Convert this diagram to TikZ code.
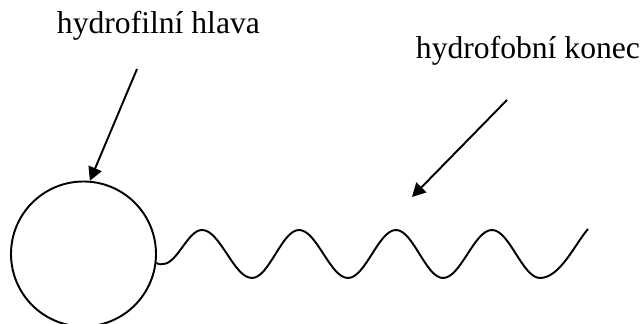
\documentclass[tikz,border=0pt]{standalone}
\usepackage{fontspec}
\setmainfont{Liberation Serif}
\usetikzlibrary{arrows.meta}

\begin{document}
\begin{tikzpicture}[line width=1.1pt,
    popis/.style={anchor=base west,inner sep=0pt,font=\fontsize{18}{21}\selectfont},
    sipka/.style={-{Triangle[length=0.27cm,width=0.28cm]}}]
  \useasboundingbox (0,0) rectangle (12.86,6.48);
  % head and labels
  \node[circle,draw,minimum size=2.9cm,inner sep=0pt] (hlava) at (1.67,1.40) {};
  \node[popis] (lblHlava) at (1.12,5.80) {hydrofilní hlava};
  \node[popis] (lblKonec) at (8.30,5.30) {hydrofobní konec};
  \coordinate (hlavaStart) at (2.74,5.10);
  \coordinate (konecStart) at (10.14,4.48);
  \coordinate (konecCil) at (8.24,2.54);
  \draw[sipka] (hlavaStart) -- (hlava.85);
  \draw[sipka] (konecStart) -- (konecCil);
  % tail
  \draw (hlava.-7) .. controls (3.18,1.19) .. (3.26,1.20)
    cos (3.65,1.54) sin (4.04,1.88) cos (4.54,1.40) sin (5.04,0.92)
    cos (5.51,1.40) sin (5.98,1.88) cos (6.47,1.40) sin (6.96,0.92)
    cos (7.44,1.40) sin (7.92,1.88) cos (8.39,1.40) sin (8.86,0.92)
    cos (9.35,1.40) sin (9.84,1.88) cos (10.32,1.40) sin (10.80,0.92)
    .. controls (11.20,0.92) and (11.50,1.60) .. (11.76,1.90);
\end{tikzpicture}
\end{document}
